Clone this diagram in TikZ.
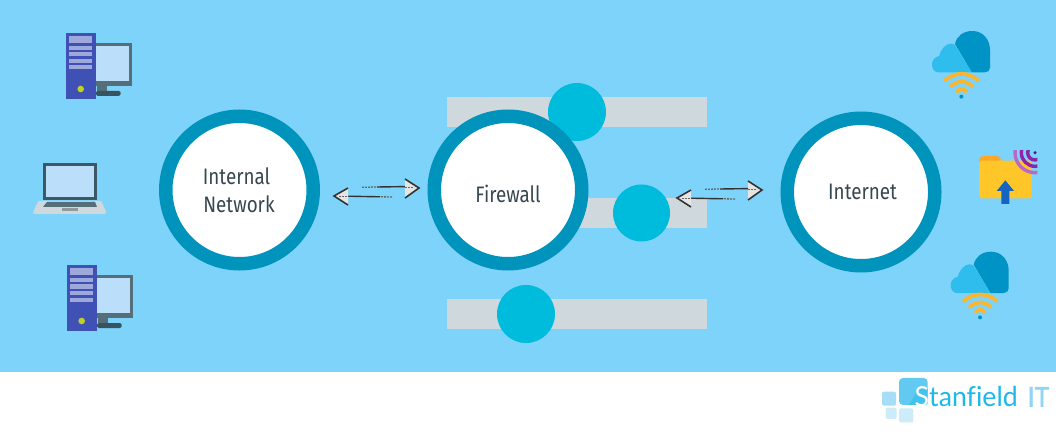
\documentclass[tikz,border=0pt]{standalone}
\usepackage{fontspec}
\setmainfont[FakeStretch=0.84,Ligatures=NoCommon]{Fira Sans}
\newfontfamily\logofont[FakeStretch=0.97,Ligatures=NoCommon]{Lato}
\newfontfamily\logobold[FakeBold=2,FakeStretch=0.92]{Lato}
\usetikzlibrary{arrows.meta}
\definecolor{skybg}{HTML}{7DD3F9}
\definecolor{ringblue}{HTML}{0093BC}
\definecolor{knobcyan}{HTML}{00BCDC}
\definecolor{bargrey}{HTML}{CFD8DC}
\definecolor{inktext}{HTML}{37474F}
\definecolor{towerblue}{HTML}{3F51B5}
\definecolor{drivelilac}{HTML}{9FA8DA}
\definecolor{screenblue}{HTML}{BBDEFB}
\definecolor{monitorgrey}{HTML}{546E7A}
\definecolor{basedark}{HTML}{37535F}
\definecolor{clouddark}{HTML}{0094C6}
\definecolor{cloudlight}{HTML}{2FBDEE}
\definecolor{wifiorange}{HTML}{FBB62D}
\definecolor{folderyellow}{HTML}{FFC629}
\definecolor{foldertab}{HTML}{FFA726}
\definecolor{arrowblue}{HTML}{1565C0}
\definecolor{logocyan}{HTML}{1EB8EA}
\definecolor{logopale}{HTML}{90D5F5}
\definecolor{ringlight}{HTML}{BA68C8}
\definecolor{ringmid}{HTML}{8E24AA}
\definecolor{ringdark}{HTML}{4A148C}
\tikzset{
  bigring/.style={circle,draw=ringblue,fill=white,line width=13.5pt,minimum size=147.5pt,inner sep=0pt,outer sep=0pt},
  ringtext/.style={inner sep=0pt,font=\fontsize{22.4}{28}\selectfont,text=inktext},
  knob/.style={circle,fill=knobcyan,inner sep=0pt,outer sep=0pt},
  sliderbar/.style={fill=bargrey},
  solidshaft/.style={draw=black!80,line width=1.4pt},
  dottedshaft/.style={draw=black!60,line width=1.3pt,dash pattern=on 1.8pt off 1.2pt},
  headfill/.style={fill=white!90!black},
  headedge/.style={draw=black!80,line width=1.6pt,line join=miter},
  wifi/.style={draw=wifiorange,line width=3.8pt,line cap=round},
}
\newcommand{\pairarrow}[3]{%
\begin{scope}[shift={(#2,#3)}]
  \coordinate (#1ua) at (362,187.3);
  \coordinate (#1ub) at (377,187);
  \coordinate (#1uc) at (405,186.6);
  \coordinate (#1la) at (392,197);
  \coordinate (#1lb) at (380,196.8);
  \coordinate (#1lc) at (348,196.2);
  \draw[dottedshaft] (#1ua) -- (#1ub);
  \draw[solidshaft] (#1ub) -- (#1uc);
  \draw[dottedshaft] (#1la) -- (#1lb);
  \draw[solidshaft] (#1lb) -- (#1lc);
  \fill[headfill] (405,179) -- (419,188) -- (405,198) -- cycle;
  \draw[headedge] (405,179) -- (419,188) -- (405,198);
  \draw[dottedshaft] (405,187.5) -- (414,187.5);
  \fill[headfill] (348,188) -- (334,196) -- (348,205) -- cycle;
  \draw[headedge] (348,188) -- (334,196) -- (348,205);
  \draw[dottedshaft] (339,196.3) -- (348,196.3);
\end{scope}}
\newcommand{\pcicon}[2]{%
\begin{scope}[shift={(#1,#2)}]
  \fill[monitorgrey] (96,43) rectangle (132,86);
  \fill[screenblue] (96,46) rectangle (129,81);
  \fill[monitorgrey] (97,86) rectangle (107,91);
  \fill[basedark,rounded corners=1.5pt] (96,91) rectangle (120.5,96);
  \fill[towerblue] (66,33) rectangle (96,99);
  \fill[drivelilac] (69,36) rectangle (92,43);
  \fill[drivelilac] (69,46) rectangle (92,50);
  \fill[drivelilac] (69,52.5) rectangle (92,56.5);
  \fill[drivelilac] (69,59) rectangle (92,63);
  \fill[drivelilac] (69,65.5) rectangle (92,69.5);
  \fill[yellow!80!green!90!black] (80.7,89) circle (3.3);
\end{scope}}
\newcommand{\cloudicon}[2]{%
\begin{scope}[shift={(#1,#2)},scale=1/3]
  \fill[clouddark] (105,72) .. controls (110,48) and (130,33) .. (157,33) .. controls (190,33) and (210,60) .. (210,90) -- (210,143) .. controls (210,152) and (203,157) .. (195,157) -- (155,157) -- cycle;
  \fill[cloudlight] (155,157) -- (55,157) .. controls (42,157) and (36,145) .. (36,132) .. controls (36,118) and (48,110) .. (58,108) .. controls (62,85) and (80,71) .. (92,71) .. controls (98,71) and (103,73) .. (105,75) -- cycle;
  \draw[wifi] (75,181) .. controls (105,155) and (145,155) .. (174,181);
  \draw[wifi] (93,199) .. controls (110,181) and (140,181) .. (156,199);
  \draw[wifi] (111,214) .. controls (118,205) and (132,205) .. (138,214);
  \fill[clouddark] (124,230) circle (6);
\end{scope}}
\begin{document}
\begin{tikzpicture}[x=1pt,y=-1pt]
\useasboundingbox (0,0) rectangle (1056,435);
\fill[white] (0,0) rectangle (1056,435);
\fill[skybg] (0,0) rectangle (1056,372);

\fill[sliderbar] (447,97) rectangle (707,127);
\fill[sliderbar] (447,198) rectangle (707,228);
\fill[sliderbar] (447,299) rectangle (707,329);
\node[knob,minimum size=58pt] (knobtop) at (577,112) {};
\node[knob,minimum size=57pt] (knobmid) at (641.5,213) {};
\node[knob,minimum size=58pt] (knoblow) at (526,314) {};

\node[bigring] (internal) at (239.5,190) {};
\node[bigring] (firewall) at (508,190) {};
\node[bigring] (internet) at (861,192) {};
\node[ringtext,anchor=base] (internaltxt) at (236.5,185) {Internal};
\node[ringtext,anchor=base] (networktxt) at (239,213) {Network};
\node[ringtext,anchor=base] (firewalltxt) at (508,203) {Firewall};
\node[ringtext,anchor=base] (internettxt) at (862.5,200) {Internet};

\pairarrow{ab}{0}{0}
\pairarrow{bc}{343}{2}

\pcicon{0}{0}
\pcicon{1}{232}
\fill[basedark!80!monitorgrey] (43,163) rectangle (97,200);
\fill[screenblue] (46,166) rectangle (94,197);
\fill[bargrey] (38.5,201) -- (101,201) -- (106,211) .. controls (106.5,213) and (106,214) .. (104,214) -- (35,214) .. controls (33,214) and (33,213) .. (33.5,211) -- cycle;
\fill[monitorgrey] (47,202) -- (95,202) -- (97,207) -- (43,207) -- cycle;
\fill[black!30!bargrey] (62,208) rectangle (78,211);

\cloudicon{920}{20}
\cloudicon{938.7}{240.7}
\begin{scope}[shift={(920,20)},scale=1/3]
  \fill[foldertab,rounded corners=4pt] (177,408) rectangle (243,440);
  \fill[folderyellow,rounded corners=3pt] (177,422) rectangle (335,535);
  \fill[arrowblue] (256,481) -- (282,513) -- (268,513) -- (268,552) -- (244,552) -- (244,513) -- (230,513) -- cycle;
  \begin{scope}
    \clip (270,393) rectangle (352,475);
    \draw[draw=ringlight,line width=3.4pt] (345,398) circle (60);
    \draw[draw=ringmid,line width=3.4pt] (345,398) circle (41);
    \draw[draw=ringmid,line width=3.4pt] (345,398) circle (22);
    \fill[ringdark] (345,398) circle (5);
  \end{scope}
\end{scope}

\begin{scope}[shift={(870,240)},scale=1/3]
  \fill[logopale!80!white,rounded corners=2pt] (36,455) rectangle (78,497);
  \fill[logopale!45!white,rounded corners=2pt] (47,503) rectangle (80,537);
  \fill[logopale!45!white,rounded corners=2pt] (87,505) rectangle (130,547);
  \fill[logopale!60!logocyan,rounded corners=4pt] (87,414) rectangle (173,495);
  \fill[logocyan!85!white] (115,495) .. controls (140,470) and (130,440) .. (173,445) -- (173,490) .. controls (173,493) and (171,495) .. (168,495) -- cycle;
\end{scope}
\node[anchor=base west,inner sep=0pt,text=logocyan,font={\logofont\fontsize{27.5}{30}\selectfont}] (logoname) at (914.5,406.5) {\textcolor{white}{S}tanfield};
\node[anchor=base west,inner sep=0pt,text=logopale,font={\logobold\fontsize{27}{30}\selectfont}] (logoit) at (1027.5,406.5) {IT};
\end{tikzpicture}
\end{document}
